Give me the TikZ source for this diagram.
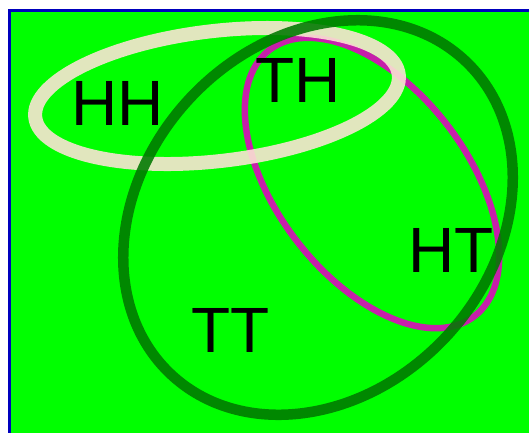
\documentclass[tikz,border=0pt]{standalone}
\usepackage{fontspec}
\setmainfont{Liberation Sans}
\definecolor{fieldgreen}{RGB}{0,255,0}
\definecolor{framblue}{RGB}{0,0,190}
\definecolor{creamring}{RGB}{250,228,211}
\definecolor{magring}{RGB}{198,32,170}
\definecolor{darkring}{RGB}{0,120,0}
\tikzset{
  label/.style={inner sep=0pt, anchor=center, font=\fontsize{64}{68}\selectfont},
  ringcream/.style={draw=creamring, line width=14pt, opacity=0.9},
  ringmag/.style={draw=magring, line width=6.5pt},
  ringdark/.style={draw=darkring, line width=10.5pt, opacity=0.88},
}
\begin{document}
\begin{tikzpicture}[x=1pt,y=1pt]
  \useasboundingbox (0,0) rectangle (529,-432);
  \fill[white] (0,0) rectangle (529,-432);
  \clip (0,0) rectangle (529,-432);
  % playing field with its frame
  \draw[framblue, line width=3pt, fill=fieldgreen] (9.5,-10.5) rectangle (540,-445);
  % outcome sets
  \draw[ringmag, shift={(372,-183)}, rotate=-52.4] (0,0) ellipse [x radius=168, y radius=95];
  \draw[ringcream, shift={(217,-96)}, rotate=6.7] (0,0) ellipse [x radius=183, y radius=65];
  \draw[ringdark, shift={(318,-217.5)}, rotate=46.8] (0,0) ellipse [x radius=215, y radius=175];
  % outcomes
  \node[label] (hh) at (118,-103.5) {HH};
  \node[label] (th) at (298,-80.5) {TH};
  \node[label] (ht) at (451,-250) {HT};
  \node[label] (tt) at (230.5,-330.5) {TT};
\end{tikzpicture}
\end{document}
